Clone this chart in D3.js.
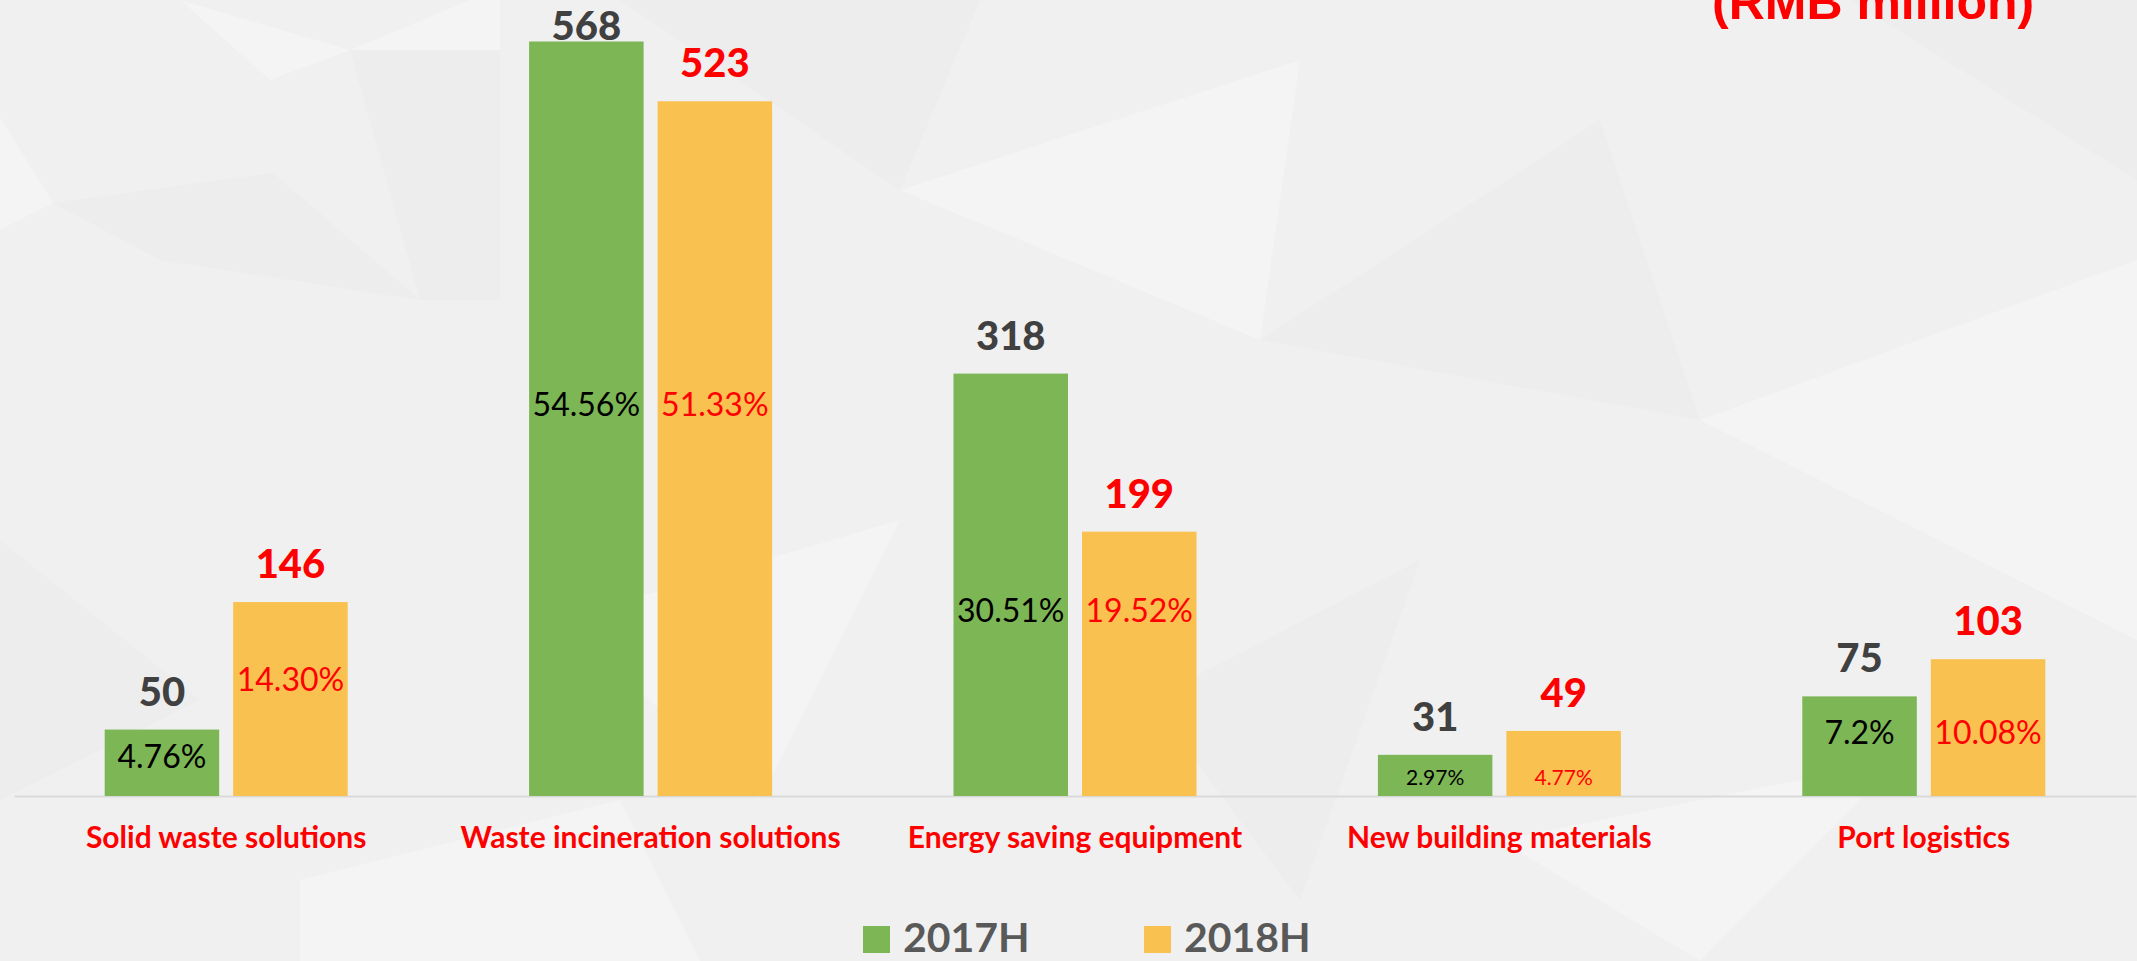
<!DOCTYPE html>
<html>
<head>
<meta charset="utf-8">
<script src="https://cdn.jsdelivr.net/npm/d3@7"></script>
<style>
  html, body { margin: 0; padding: 0; background: #f0f0f0; overflow: hidden; }
  svg { display: block; }
  .cat text { font-family: Lato, "Open Sans", sans-serif; font-weight: 700; }
</style>
</head>
<body>
<script>
// values in RMB million
var categories = ["Solid waste solutions", "Waste incineration solutions",
                  "Energy saving equipment", "New building materials", "Port logistics"];
var series = ["2017H", "2018H"];
var values2017 = [50, 568, 318, 31, 75];
var values2018 = [146, 523, 199, 49, 103];
var share2017 = ["4.76%", "54.56%", "30.51%", "2.97%", "7.2%"];
var share2018 = ["14.30%", "51.33%", "19.52%", "4.77%", "10.08%"];

var width = 2137, height = 961;
var colors = { "2017H": "#7db655", "2018H": "#f9c14f" };
var valueColors = { "2017H": "#404040", "2018H": "#ff0000" };
var shareColors = { "2017H": "#000000", "2018H": "#ff0000" };

var svg = d3.select("body").append("svg")
    .attr("width", width)
    .attr("height", height);

// faint low-poly backdrop
var shards = [
  [[0,117],[53,203],[0,230]],
  [[53,203],[273,173],[420,300],[160,260]],
  [[350,50],[470,0],[500,0],[500,50]],
  [[350,50],[500,50],[500,300],[420,300]],
  [[180,0],[350,50],[270,80]],
  [[620,0],[980,0],[900,190]],
  [[900,190],[1300,60],[1260,340]],
  [[1260,340],[1600,120],[1700,420]],
  [[1700,420],[2137,260],[2137,640]],
  [[0,540],[200,700],[0,800]],
  [[560,620],[900,520],[760,800]],
  [[1150,700],[1420,560],[1300,900]],
  [[1500,840],[1900,760],[1700,961]],
  [[1850,0],[2137,0],[2137,180]],
  [[300,880],[620,800],[700,961],[300,961]]
];
svg.selectAll(".shard")
    .data(shards)
  .enter().append("polygon")
    .attr("class", "shard")
    .attr("points", function(d){ return d.map(function(p){ return p.join(","); }).join(" "); })
    .style("fill", function(d,i){ return i % 2 ? "#ebebeb" : "#f5f5f5"; })
    .style("opacity", 0.7);

var x0 = d3.scaleBand()
    .domain(categories)
    .range([14, 2136]);

var groupWidth = 243;
var x1 = d3.scaleBand()
    .domain(series)
    .range([0, groupWidth])
    .paddingInner(0.109);

var y = d3.scaleLinear()
    .domain([0, 600])
    .range([796, -1]);

var rows = categories.map(function(c, i){
  return {
    cat: c,
    bars: [
      { key: "2017H", value: values2017[i], share: share2017[i] },
      { key: "2018H", value: values2018[i], share: share2018[i] }
    ]
  };
});

// axis with category labels
var axis = d3.axisBottom(x0)
    .tickSize(0)
    .tickSizeOuter(0)
    .tickPadding(31);

var gAxis = svg.append("g")
    .attr("class", "cat")
    .attr("transform", "translate(0," + y(0) + ")")
    .call(axis);
gAxis.select(".domain")
    .style("stroke", "#d9d9d9")
    .style("stroke-width", 2);
gAxis.selectAll("text")
    .style("font-size", "30px")
    .style("fill", "#ff0000");

var groups = svg.selectAll(".group")
    .data(rows)
  .enter().append("g")
    .attr("class", "group")
    .attr("transform", function(d){
      return "translate(" + (x0(d.cat) + (x0.bandwidth() - groupWidth) / 2) + ",0)";
    });

groups.selectAll("rect")
    .data(function(d){ return d.bars; })
  .enter().append("rect")
    .attr("x", function(d){ return x1(d.key); })
    .attr("y", function(d){ return y(d.value); })
    .attr("width", x1.bandwidth())
    .attr("height", function(d){ return y(0) - y(d.value); })
    .style("fill", function(d){ return colors[d.key]; });

// value labels above bars
groups.selectAll(".val")
    .data(function(d){ return d.bars; })
  .enter().append("text")
    .attr("class", "val")
    .attr("x", function(d){ return x1(d.key) + x1.bandwidth() / 2; })
    .attr("y", function(d){ return Math.max(y(d.value) - 24, 40); })
    .attr("text-anchor", "middle")
    .style("font-family", "Lato, 'Open Sans', sans-serif")
    .style("font-weight", 900)
    .style("font-size", "40px")
    .style("fill", function(d){ return valueColors[d.key]; })
    .text(function(d){ return d.value; });

// share labels inside bars
groups.each(function(row){
  var hs = row.bars.map(function(b){ return y(0) - y(b.value); });
  var lo = d3.min(hs), hi = d3.max(hs);
  var small = lo < 50;
  var fs = small ? 21 : 32;
  var cap = fs * 0.72;
  d3.select(this).selectAll(".share")
      .data(row.bars)
    .enter().append("text")
      .attr("class", "share")
      .attr("x", function(d){ return x1(d.key) + x1.bandwidth() / 2; })
      .attr("y", function(d, i){
        var c;
        if(lo / hi < 0.5){
          c = hs[i] * 0.6;
        }else{
          c = d3.mean(hs) * (small ? 0.35 : 0.54);
        }
        return y(0) - c + cap / 2;
      })
      .attr("text-anchor", "middle")
      .style("font-family", "Lato, 'Open Sans', sans-serif")
      .style("font-size", fs + "px")
      .style("fill", function(d){ return shareColors[d.key]; })
      .text(function(d){ return d.share; });
});

// legend
var legend = svg.selectAll(".legend")
    .data(series)
  .enter().append("g")
    .attr("class", "legend")
    .attr("transform", function(d, i){ return "translate(" + (863 + i * 281) + ",926)"; });
legend.append("rect")
    .attr("width", 27)
    .attr("height", 27)
    .style("fill", function(d){ return colors[d]; });
legend.append("text")
    .attr("x", 40)
    .attr("y", 26)
    .style("font-family", "Lato, 'Open Sans', sans-serif")
    .style("font-weight", 700)
    .style("font-size", "41px")
    .style("fill", "#595959")
    .text(String);

// unit note, top right
svg.append("text")
    .attr("x", 1712)
    .attr("y", 19)
    .style("font-family", "'Liberation Sans', Arial, sans-serif")
    .style("font-weight", 700)
    .style("font-size", "50px")
    .style("fill", "#ff0000")
    .text("(RMB million)");
</script>
</body>
</html>
